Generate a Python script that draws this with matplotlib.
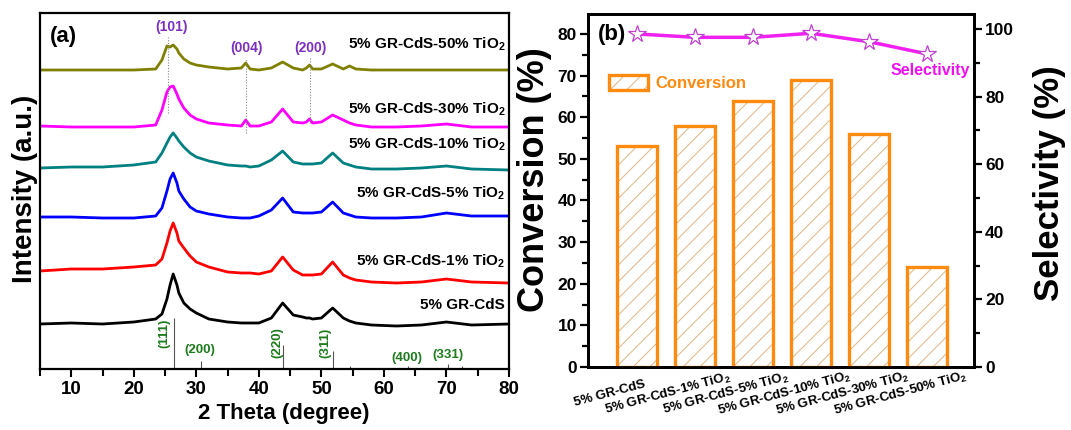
import matplotlib
matplotlib.use("Agg")
import matplotlib.pyplot as plt
from matplotlib.patches import Patch
from matplotlib.transforms import ScaledTranslation, blended_transform_factory
from matplotlib.ticker import MultipleLocator

# ---------------- data: panel (a) XRD patterns ----------------
two_theta = [5, 10, 15, 20, 23.5, 24.5, 25.3, 25.8, 26.3, 26.9, 27.2, 28, 29, 30, 32, 35, 37.2, 37.9,
             38.6, 40, 42, 43.8, 45.5, 47, 47.6, 48.1, 48.6, 50, 51.8, 53.5, 54.5, 55.5,
             58, 62, 66, 70, 74, 80]
int_cds = [45, 46, 45, 47, 50, 55, 70, 84, 95, 84, 76, 66, 60, 56, 50, 47, 46, 46,
           46, 46, 51, 66, 54, 52, 51, 51, 50, 51, 61, 51, 48, 46,
           44, 43, 44, 47, 44, 45]
int_tio2_1 = [98, 100, 100, 102, 104, 110, 126, 138, 146, 136, 128, 121, 113, 107, 102, 97, 96, 96,
              96, 95, 98, 112, 99, 94, 94, 94, 94, 95, 107, 94, 91, 89,
              87, 86, 87, 90, 87, 86]
int_tio2_5 = [152, 152, 151, 151, 153, 161, 178, 190, 196, 186, 178, 170, 162, 158, 155, 152, 151, 151,
              151, 153, 159, 171, 157, 156, 156, 156, 156, 157, 167, 156, 154, 152,
              151, 151, 152, 156, 153, 153]
int_tio2_10 = [201, 202, 202, 204, 207, 216, 226, 232, 236, 231, 228, 222, 216, 212, 208, 204, 203, 203,
               202, 203, 209, 218, 207, 205, 205, 205, 205, 206, 216, 206, 204, 202,
               200, 200, 201, 203, 200, 199]
int_tio2_30 = [243, 242, 242, 242, 244, 259, 277, 282, 283, 275, 270, 261, 254, 250, 246, 244, 243, 249,
               243, 243, 247, 260, 247, 246, 247, 250, 246, 247, 254, 249, 246, 244,
               242, 242, 243, 245, 242, 242]
int_tio2_50 = [299, 299, 299, 299, 300, 309, 323, 322, 324, 320, 316, 310, 306, 304, 302, 300, 301, 306,
               300, 299, 301, 307, 301, 299, 301, 304, 300, 300, 305, 300, 303, 300,
               299, 299, 299, 299, 299, 299]
sample_names = ["5% GR-CdS", "5% GR-CdS-1% TiO$_2$", "5% GR-CdS-5% TiO$_2$",
                "5% GR-CdS-10% TiO$_2$", "5% GR-CdS-30% TiO$_2$", "5% GR-CdS-50% TiO$_2$"]
sample_label_y = [57, 99, 167, 216, 251, 316]

# CdS reference lines (position, height) and labels
cds_ref_pos = [26.5, 30.7, 43.9, 51.9, 54.5, 63.8, 70.3, 72.5]
cds_ref_h = [51, 8, 24, 18, 3, 3, 5, 3]
cds_lab_text = ["(111)", "(200)", "(220)", "(311)", "(400)", "(331)"]
cds_lab_x = [24.9, 30.6, 43.0, 50.6, 63.7, 70.3]
cds_lab_y = [36, 19, 26, 26, 11, 14]
cds_lab_rot = [90, 0, 90, 90, 0, 0]

# anatase TiO2 labels
ana_text = ["(101)", "(004)", "(200)"]
ana_x = [26.0, 38.1, 48.2]
ana_y = [342, 321, 321]
ana_line_x = [25.5, 38.0, 48.2]
ana_line_lo = [256, 236, 246]
ana_line_hi = [332, 311, 311]

# ---------------- data: panel (b) ----------------
categories = ["5% GR-CdS", "5% GR-CdS-1% TiO$_2$", "5% GR-CdS-5% TiO$_2$",
              "5% GR-CdS-10% TiO$_2$", "5% GR-CdS-30% TiO$_2$", "5% GR-CdS-50% TiO$_2$"]
conversion = [53, 58, 64, 69, 56, 24]
selectivity = [98.5, 97.5, 97.5, 98.7, 96.2, 92.6]

# ---------------- style ----------------
plt.rcParams['font.family'] = ['Liberation Sans', 'DejaVu Sans']
plt.rcParams['font.weight'] = 'bold'
plt.rcParams['mathtext.fontset'] = 'custom'
plt.rcParams['mathtext.rm'] = 'Liberation Sans:bold'
plt.rcParams['mathtext.bf'] = 'Liberation Sans:bold'
plt.rcParams['mathtext.it'] = 'Liberation Sans:bold'
plt.rcParams['mathtext.default'] = 'bf'
plt.rcParams['hatch.color'] = '#DDB585'
plt.rcParams['hatch.linewidth'] = 0.7

curve_colors = ['black', '#FF0000', '#0000FF', '#008080', '#FF00FF', '#808000']
orange = '#FF8A10'
purple = '#7B2FBE'
green = '#1E7B1E'

fig = plt.figure(figsize=(10.71, 4.30), dpi=100)

# ================= panel (a) =================
axa = fig.add_axes([40/1071, 61/430, 469/1071, 356/430])
series = [int_cds, int_tio2_1, int_tio2_5, int_tio2_10, int_tio2_30, int_tio2_50]
for ys, c in zip(series, curve_colors):
    axa.plot(two_theta, ys, color=c, lw=2.0, solid_joinstyle='round')
axa.set_xlim(5, 80)
axa.set_ylim(0, 356)
axa.set_yticks([])
axa.xaxis.set_major_locator(MultipleLocator(10))
axa.xaxis.set_minor_locator(MultipleLocator(5))
axa.tick_params(axis='x', which='both', direction='out', width=1.5, labelsize=13.5, pad=3)
axa.tick_params(axis='x', which='major', length=6)
axa.tick_params(axis='x', which='minor', length=5)
for s in axa.spines.values():
    s.set_linewidth(1.6)

for name, yv in zip(sample_names, sample_label_y):
    axa.text(79.4, yv, name, ha='right', va='bottom', fontsize=11, fontweight='bold')

axa.vlines(cds_ref_pos, 0, cds_ref_h, colors='#555555', lw=0.8)
for t, x, y, r in zip(cds_lab_text, cds_lab_x, cds_lab_y, cds_lab_rot):
    axa.text(x, y, t, ha='center', va='center', rotation=r, color=green, fontsize=9.5,
             fontweight='bold')
axa.vlines(ana_line_x, ana_line_lo, ana_line_hi, colors='#888888', lw=0.8, linestyles=(0, (1, 1.5)))
for t, x, y in zip(ana_text, ana_x, ana_y):
    axa.text(x, y, t, ha='center', va='center', color=purple, fontsize=10, fontweight='bold')

axa.text(0.049, 0.933, "(a)", transform=axa.transAxes, ha='center', va='center',
         fontsize=16, fontweight='bold')
axa.set_xlabel("2 Theta (degree)", fontsize=16, fontweight='bold')
axa.xaxis.set_label_coords(0.52, -0.095)
axa.set_ylabel("Intensity (a.u.)", fontsize=20, fontweight='bold')
axa.yaxis.set_label_coords(-0.004, 0.506)

# ================= panel (b) =================
axb = fig.add_axes([588/1071, 63/430, 386/1071, 353/430])
xpos = list(range(len(categories)))
axb.bar(xpos, conversion, width=0.69, color='white', hatch='//', linewidth=0, zorder=2)
axb.bar(xpos, conversion, width=0.69, facecolor='none', edgecolor=orange, linewidth=2.4, zorder=3)
axb.set_xlim(-0.845, 5.81)
axb.set_ylim(0, 84.8)
axb.set_xticks(xpos)
axb.set_xticklabels([])
axb.tick_params(axis='x', length=0)
axb.yaxis.set_major_locator(MultipleLocator(10))
axb.yaxis.set_minor_locator(MultipleLocator(5))
axb.tick_params(axis='y', which='both', direction='out', width=1.6, labelsize=12.5, pad=2)
axb.tick_params(axis='y', which='major', length=6)
axb.tick_params(axis='y', which='minor', length=4)
for s in axb.spines.values():
    s.set_linewidth(2.0)
axb.set_ylabel("Conversion (%)", fontsize=26, fontweight='bold')
axb.yaxis.set_label_coords(-0.092, 0.53)

trans = blended_transform_factory(axb.transData, axb.transAxes) + \
    ScaledTranslation(-27/100, -27/100, fig.dpi_scale_trans)
for x, lab in zip(xpos, categories):
    axb.text(x, 0, lab, transform=trans, ha='center', va='center', rotation=15,
             rotation_mode='anchor', fontsize=9.5, fontweight='bold')

axr = axb.twinx()
axr.plot(xpos, selectivity, color='#F020F0', lw=2.5, marker='*', markersize=13,
         markerfacecolor='white', markeredgecolor='#C040D0', markeredgewidth=0.9, zorder=5)
axr.set_ylim(0, 104.4)
axr.yaxis.set_major_locator(MultipleLocator(20))
axr.yaxis.set_minor_locator(MultipleLocator(10))
axr.tick_params(axis='y', which='both', direction='out', width=1.6, labelsize=12.5, pad=2)
axr.tick_params(axis='y', which='major', length=6)
axr.tick_params(axis='y', which='minor', length=4)
for s in axr.spines.values():
    s.set_linewidth(2.0)
axr.set_ylabel("Selectivity (%)", fontsize=25, fontweight='bold')
axr.yaxis.set_label_coords(1.153, 0.52)

axb.text(0.062, 0.943, "(b)", transform=axb.transAxes, ha='center', va='center',
         fontsize=16, fontweight='bold', zorder=1)
axr.text(0.99, 0.839, "Selectivity", transform=axr.transAxes, ha='right', va='center',
         color='#EE11EE', fontsize=11.5, fontweight='bold')

leg_handle = (Patch(facecolor='white', hatch='//', linewidth=0),
              Patch(facecolor='none', edgecolor=orange, linewidth=2.4))
leg = axb.legend([leg_handle], ["Conversion"], loc='upper left',
                 bbox_to_anchor=(0.025, 0.86), frameon=False,
                 handlelength=2.35, handleheight=1.0, handletextpad=0.4, borderpad=0.2,
                 prop={'weight': 'bold', 'size': 12})
for t in leg.get_texts():
    t.set_color(orange)

fig.savefig("out.png", dpi=100)
